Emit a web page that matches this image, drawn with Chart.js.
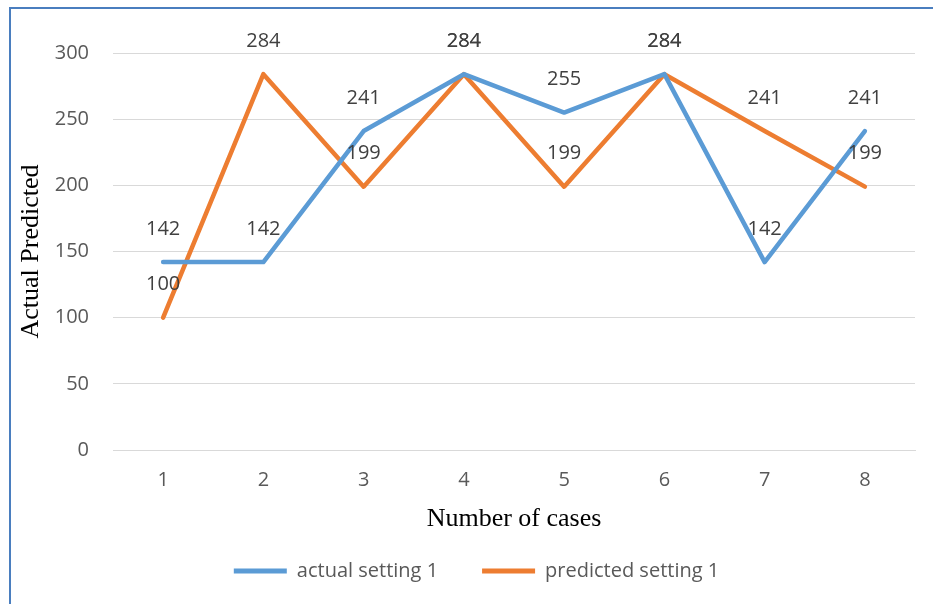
<!DOCTYPE html>
<html>
<head>
<meta charset="utf-8">
<script src="https://cdn.jsdelivr.net/npm/chart.js@4.4.1/dist/chart.umd.min.js"></script>
<style>
    body { margin: 0; background: #fff; }
    #wrap { position: relative; width: 933px; height: 604px; }
    #frame {
        position: absolute; left: 9px; top: 7px; right: 0; bottom: 0;
        border-left: 2px solid #4a7ebf; border-top: 2px solid #4a7ebf;
        pointer-events: none;
    }
</style>
</head>
<body>
<div id="wrap">
    <canvas id="lineChart" width="933" height="604"></canvas>
    <div id="frame"></div>
</div>
<script>
const cases = ['1', '2', '3', '4', '5', '6', '7', '8'];
const actualSetting1 = [142, 142, 241, 284, 255, 284, 142, 241];
const predictedSetting1 = [100, 284, 199, 284, 199, 284, 241, 199];
const yTicks = [0, 50, 100, 150, 200, 250, 300];

const tickFont = { family: 'Open Sans', size: 20 };
const titleFont = { family: 'Liberation Serif', size: 26, lineHeight: 1.2 };

// simple value labels above each point
const valueLabels = {
    id: 'valueLabels',
    afterDatasetsDraw(chart) {
        const ctx = chart.ctx;
        ctx.save();
        ctx.font = '20px "Open Sans"';
        ctx.fillStyle = '#404040';
        ctx.textAlign = 'center';
        ctx.textBaseline = 'middle';
        chart.data.datasets.forEach((ds, i) => {
            chart.getDatasetMeta(i).data.forEach((pt, j) => {
                ctx.fillText(String(ds.data[j]), pt.x, pt.y - 33);
            });
        });
        ctx.restore();
    }
};

new Chart(document.getElementById('lineChart'), {
    type: 'line',
    data: {
        labels: cases,
        datasets: [
            {
                label: 'actual setting 1',
                data: actualSetting1,
                borderColor: '#5b9bd5',
                backgroundColor: '#5b9bd5',
                borderWidth: 4.5,
                pointRadius: 0,
                tension: 0,
                borderCapStyle: 'round',
                borderJoinStyle: 'round'
            },
            {
                label: 'predicted setting 1',
                data: predictedSetting1,
                borderColor: '#ed7d31',
                backgroundColor: '#ed7d31',
                borderWidth: 4.5,
                pointRadius: 0,
                tension: 0,
                borderCapStyle: 'round',
                borderJoinStyle: 'round'
            }
        ]
    },
    options: {
        responsive: false,
        animation: false,
        layout: { padding: { left: 38, right: 18, top: 53, bottom: 13 } },
        plugins: {
            tooltip: { enabled: false },
            legend: {
                display: true,
                position: 'bottom',
                labels: {
                    font: tickFont,
                    color: '#595959',
                    boxWidth: 53,
                    boxHeight: 5,
                    padding: 44,
                    generateLabels(chart) {
                        return chart.data.datasets.map((ds, i) => ({
                            text: ds.label,
                            fillStyle: ds.borderColor,
                            strokeStyle: ds.borderColor,
                            lineWidth: 0,
                            fontColor: '#595959',
                            datasetIndex: i
                        }));
                    }
                }
            }
        },
        scales: {
            x: {
                offset: true,
                grid: { display: false, drawTicks: false },
                border: { color: '#d9d9d9' },
                ticks: { font: tickFont, color: '#595959', padding: 18 },
                title: {
                    display: true,
                    text: 'Number of cases',
                    font: titleFont,
                    color: '#000',
                    padding: { top: 0, bottom: -17.6 }
                },
                afterFit(scale) { scale.height = 67; }
            },
            y: {
                min: 0,
                max: 300,
                afterBuildTicks(scale) { scale.ticks = yTicks.map(v => ({ value: v })); },
                grid: { color: '#d9d9d9', drawTicks: false },
                border: { display: false },
                ticks: { font: tickFont, color: '#595959', padding: 24 },
                title: {
                    display: true,
                    text: 'Actual Predicted',
                    font: titleFont,
                    color: '#000',
                    padding: { top: -22.6, bottom: 0 }
                },
                afterFit(scale) { scale.width = 75; }
            }
        }
    },
    plugins: [valueLabels]
});
</script>
</body>
</html>
